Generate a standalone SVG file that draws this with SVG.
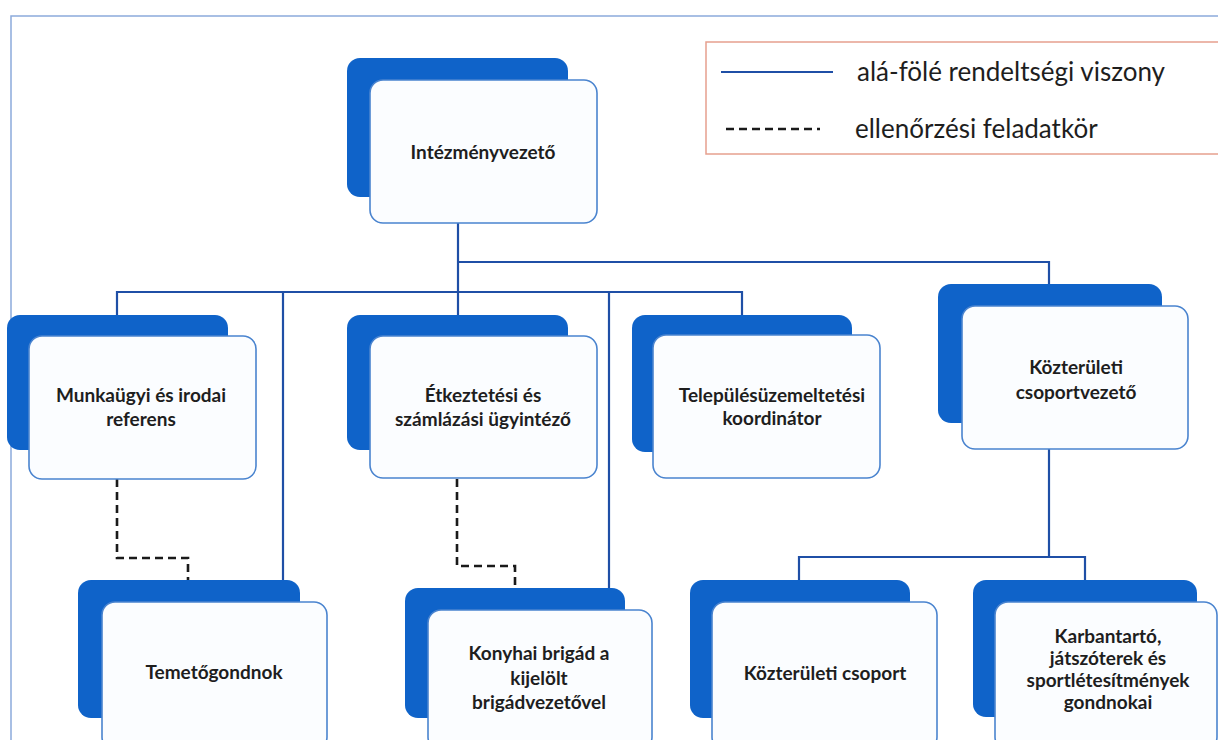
<svg xmlns="http://www.w3.org/2000/svg" width="1218" height="740" viewBox="0 0 1218 740">
<style>
.back{fill:#0f63c9;}
.front{fill:#fbfdff;stroke:#4a84cf;stroke-width:1.6;}
.lbl{font-family:Lato,"Liberation Sans",sans-serif;font-weight:700;font-size:19px;fill:#1e1e1e;text-anchor:middle;}
.leg{font-family:Lato,"Liberation Sans",sans-serif;font-size:26px;fill:#1e1e1e;}
.solid{fill:none;stroke:#1f4fa6;stroke-width:2.2;}
.dash{fill:none;stroke:#1a1a1a;stroke-width:2.6;stroke-dasharray:8 5;}
</style>
<rect width="1218" height="740" fill="#ffffff"/>
<path d="M11,740 V16 H1218" fill="none" stroke="#8cabdc" stroke-width="1.5"/>
<g id="legend">
<rect x="706" y="42" width="514" height="112" fill="#ffffff" stroke="#e6a08e" stroke-width="1.5"/>
<line x1="721" y1="72" x2="833" y2="72" class="solid"/>
<text x="857" y="81" class="leg">alá-fölé rendeltségi viszony</text>
<line x1="726" y1="129" x2="820" y2="129" class="dash"/>
<text x="855" y="138" class="leg">ellenőrzési feladatkör</text>
</g>
<g id="connectors">
<path class="solid" d="M458,223 V315"/>
<path class="solid" d="M458,262 H1049 V284"/>
<path class="solid" d="M117,315 V292 H742 V315"/>
<path class="solid" d="M283,292 V580"/>
<path class="solid" d="M609,292 V588"/>
<path class="solid" d="M1049,449 V557"/>
<path class="solid" d="M799,580 V557 H1085 V580"/>
<path class="dash" d="M117,479 V558 H188 V580"/>
<path class="dash" d="M457,479 V566 H515 V588"/>
</g>
<g id="n-intezmenyvezeto">
<rect class="back" x="347" y="58" width="221" height="139" rx="13"/>
<rect class="front" x="370" y="80" width="227" height="143" rx="13"/>
<text class="lbl" x="483" y="159">Intézményvezető</text>
</g>
<g id="n-munkaugyi">
<rect class="back" x="7" y="315" width="221" height="135" rx="13"/>
<rect class="front" x="29" y="336" width="227" height="143" rx="13"/>
<text class="lbl" x="141" y="402">Munkaügyi és irodai</text>
<text class="lbl" x="141" y="426">referens</text>
</g>
<g id="n-etkeztetesi">
<rect class="back" x="347" y="315" width="221" height="135" rx="13"/>
<rect class="front" x="370" y="336" width="227" height="142" rx="13"/>
<text class="lbl" x="483" y="402">Étkeztetési és</text>
<text class="lbl" x="483" y="426">számlázási ügyintéző</text>
</g>
<g id="n-telepules">
<rect class="back" x="632" y="315" width="220" height="137" rx="13"/>
<rect class="front" x="653" y="335" width="227" height="143" rx="13"/>
<text class="lbl" x="772" y="402">Településüzemeltetési</text>
<text class="lbl" x="772" y="425">koordinátor</text>
</g>
<g id="n-kozteruleti-vezeto">
<rect class="back" x="938" y="284" width="224" height="139" rx="13"/>
<rect class="front" x="962" y="306" width="226" height="143" rx="13"/>
<text class="lbl" x="1076" y="374">Közterületi</text>
<text class="lbl" x="1076" y="399">csoportvezető</text>
</g>
<g id="n-temetogondnok">
<rect class="back" x="78" y="580" width="222" height="138" rx="13"/>
<rect class="front" x="102" y="602" width="225" height="148" rx="13"/>
<text class="lbl" x="214" y="679">Temetőgondnok</text>
</g>
<g id="n-konyhai">
<rect class="back" x="405" y="588" width="220" height="130" rx="13"/>
<rect class="front" x="428" y="610" width="224" height="140" rx="13"/>
<text class="lbl" x="539" y="660">Konyhai brigád a</text>
<text class="lbl" x="539" y="685">kijelölt</text>
<text class="lbl" x="539" y="709">brigádvezetővel</text>
</g>
<g id="n-kozteruleti-csoport">
<rect class="back" x="690" y="580" width="220" height="138" rx="13"/>
<rect class="front" x="712" y="602" width="225" height="148" rx="13"/>
<text class="lbl" x="825" y="680">Közterületi csoport</text>
</g>
<g id="n-karbantarto">
<rect class="back" x="973" y="580" width="224" height="137" rx="13"/>
<rect class="front" x="995" y="602" width="222" height="148" rx="13"/>
<text class="lbl" x="1108" y="643">Karbantartó,</text>
<text class="lbl" x="1108" y="665">játszóterek és</text>
<text class="lbl" x="1108" y="687">sportlétesítmények</text>
<text class="lbl" x="1108" y="709">gondnokai</text>
</g>
</svg>
